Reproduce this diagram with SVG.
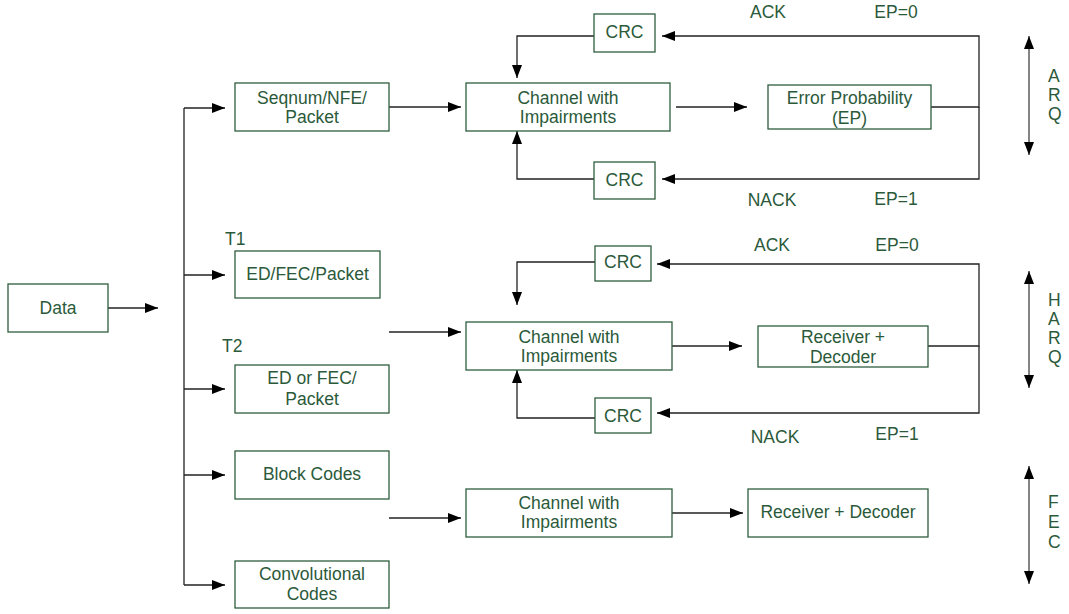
<svg xmlns="http://www.w3.org/2000/svg" width="1069" height="614" viewBox="0 0 1069 614">
<defs>
<marker id="ah" markerUnits="userSpaceOnUse" markerWidth="13" markerHeight="10" refX="13" refY="5" orient="auto-start-reverse"><path d="M0,0 L13,5 L0,10 z" fill="#000"/></marker>
<style>
.box{fill:#fff;stroke:#2e5e3e;stroke-width:1.3}
.t{font-family:"Liberation Sans",Arial,sans-serif;font-size:17.5px;fill:#2b5a3a;text-anchor:middle}
.l{font-family:"Liberation Sans",Arial,sans-serif;font-size:17.5px;fill:#2b5a3a}
.c{fill:none;stroke:#222;stroke-width:1.3}
.a{marker-end:url(#ah)}
.d{fill:none;stroke:#666;stroke-width:1.6;marker-start:url(#ah);marker-end:url(#ah)}
</style>
</defs>
<rect width="1069" height="614" fill="#fff"/>
<g id="connectors">
<path class="c a" d="M108,308 H158"/>
<path class="c" d="M184,108 V585"/>
<path class="c a" d="M184,108 H225"/>
<path class="c a" d="M184,275 H225"/>
<path class="c a" d="M184,389 H225"/>
<path class="c a" d="M184,475 H225"/>
<path class="c a" d="M184,585 H225"/>
<path class="c a" d="M389,107 H461"/>
<path class="c a" d="M676,107 H747"/>
<path class="c a" d="M931,107 H979 V36 H662"/>
<path class="c a" d="M979,107 V179 H662"/>
<path class="c a" d="M594,36 H517 V78"/>
<path class="c a" d="M594,179 H517 V131"/>
<path class="c a" d="M389,332 H461"/>
<path class="c a" d="M672,346 H742"/>
<path class="c a" d="M928,346 H979 V264 H657"/>
<path class="c a" d="M979,346 V413 H657"/>
<path class="c a" d="M595,262 H517 V305"/>
<path class="c a" d="M595,418 H517 V370"/>
<path class="c a" d="M389,518 H461"/>
<path class="c a" d="M672,513 H743"/>
<path class="d" d="M1029,36 V155"/>
<path class="d" d="M1029,271 V388"/>
<path class="d" d="M1029,466 V584"/>
</g>
<g id="data"><rect class="box" x="8" y="284" width="100" height="48"/><text class="t" x="58" y="314">Data</text></g>
<g id="seqnum"><rect class="box" x="235" y="83" width="154" height="48"/><text class="t" x="312" y="104">Seqnum/NFE/</text><text class="t" x="312" y="123">Packet</text></g>
<g id="t1"><text class="l" x="225" y="245">T1</text></g>
<g id="edfec"><rect class="box" x="235" y="251" width="145" height="47"/><text class="t" x="307.5" y="280">ED/FEC/Packet</text></g>
<g id="t2"><text class="l" x="222" y="352">T2</text></g>
<g id="edorfec"><rect class="box" x="235" y="365" width="154" height="48"/><text class="t" x="312" y="384">ED or FEC/</text><text class="t" x="312" y="405">Packet</text></g>
<g id="block"><rect class="box" x="235" y="451" width="154" height="48"/><text class="t" x="312" y="480">Block Codes</text></g>
<g id="conv"><rect class="box" x="235" y="561" width="154" height="47"/><text class="t" x="312" y="580">Convolutional</text><text class="t" x="312" y="600">Codes</text></g>
<g id="channel1"><rect class="box" x="466" y="83" width="204" height="48"/><text class="t" x="568" y="104">Channel with</text><text class="t" x="568" y="123">Impairments</text></g>
<g id="crc1"><rect class="box" x="594" y="14" width="61" height="38"/><text class="t" x="624.5" y="38">CRC</text></g>
<g id="crc2"><rect class="box" x="594" y="162" width="61" height="37"/><text class="t" x="624.5" y="186">CRC</text></g>
<g id="ep"><rect class="box" x="768" y="85" width="163" height="44"/><text class="t" x="849.5" y="104">Error Probability</text><text class="t" x="849.5" y="124">(EP)</text></g>
<g id="arq-labels">
<text class="t" x="768" y="18">ACK</text><text class="t" x="896" y="18">EP=0</text>
<text class="t" x="772" y="206">NACK</text><text class="t" x="896" y="205">EP=1</text>
<text class="l" x="1048" y="82">A</text><text class="l" x="1048" y="101">R</text><text class="l" x="1048" y="120">Q</text>
</g>
<g id="channel2"><rect class="box" x="466" y="322" width="206" height="48"/><text class="t" x="569" y="343">Channel with</text><text class="t" x="569" y="362">Impairments</text></g>
<g id="crc3"><rect class="box" x="595" y="246" width="56" height="35"/><text class="t" x="623" y="268">CRC</text></g>
<g id="crc4"><rect class="box" x="595" y="398" width="56" height="35"/><text class="t" x="623" y="422">CRC</text></g>
<g id="receiver1"><rect class="box" x="758" y="326" width="170" height="41"/><text class="t" x="843" y="343">Receiver +</text><text class="t" x="843" y="363">Decoder</text></g>
<g id="harq-labels">
<text class="t" x="772" y="251">ACK</text><text class="t" x="897" y="251">EP=0</text>
<text class="t" x="775" y="443">NACK</text><text class="t" x="897" y="440">EP=1</text>
<text class="l" x="1048" y="306">H</text><text class="l" x="1048" y="325">A</text><text class="l" x="1048" y="344">R</text><text class="l" x="1048" y="363">Q</text>
</g>
<g id="channel3"><rect class="box" x="466" y="489" width="206" height="48"/><text class="t" x="569" y="509">Channel with</text><text class="t" x="569" y="528">Impairments</text></g>
<g id="receiver2"><rect class="box" x="748" y="489" width="180" height="48"/><text class="t" x="838" y="518">Receiver + Decoder</text></g>
<g id="fec-labels">
<text class="l" x="1048" y="508">F</text><text class="l" x="1048" y="528">E</text><text class="l" x="1048" y="548">C</text>
</g>
</svg>
